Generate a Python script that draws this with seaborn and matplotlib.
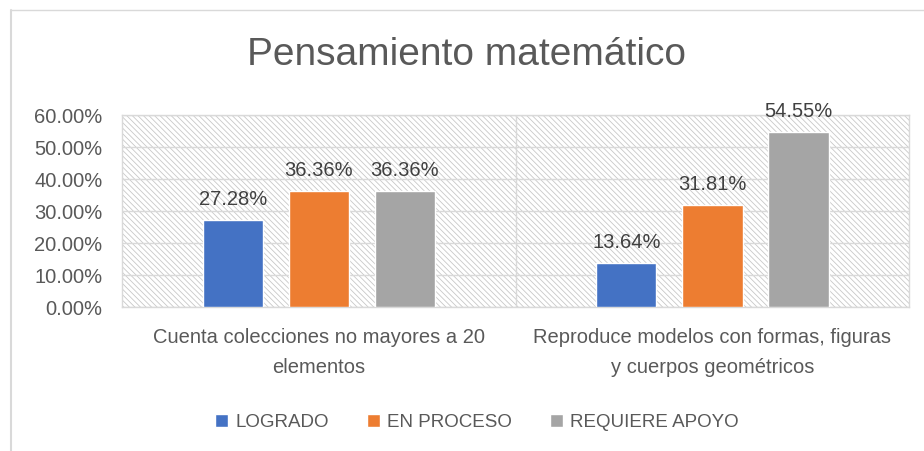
import pandas as pd
import seaborn as sns
import matplotlib.pyplot as plt
from matplotlib.patches import Rectangle
from matplotlib.lines import Line2D
from matplotlib.ticker import PercentFormatter

# Datos del gráfico
categorias = ['Cuenta colecciones no mayores a 20\nelementos',
              'Reproduce modelos con formas, figuras\ny cuerpos geométricos']
niveles = ['LOGRADO', 'EN PROCESO', 'REQUIERE APOYO']
logrado = [27.28, 13.64]
en_proceso = [36.36, 31.81]
requiere_apoyo = [36.36, 54.55]
colores = ['#4472C4', '#ED7D31', '#A5A5A5']

df = pd.DataFrame({
    'Categoria': categorias * 3,
    'Nivel': [n for n in niveles for _ in categorias],
    'Valor': logrado + en_proceso + requiere_apoyo,
})

sns.set_style('white')
plt.rcParams['font.family'] = ['Liberation Sans', 'DejaVu Sans']
plt.rcParams['hatch.linewidth'] = 0.6
plt.rcParams['hatch.color'] = '#C8C8C8'

fig = plt.figure(figsize=(9.24, 4.51), dpi=100)
ax = fig.add_axes([0.132, 0.319, 0.852, 0.426])

# Fondo rayado
ax.add_patch(Rectangle((0, 0), 1, 1, transform=ax.transAxes, facecolor='white',
                       edgecolor='#C8C8C8', hatch='\\\\\\\\\\\\', linewidth=0, zorder=0))

sns.barplot(data=df, x='Categoria', y='Valor', hue='Nivel', palette=colores,
            width=0.656, gap=0.3, ax=ax, zorder=3, saturation=1)

for cont in ax.containers:
    ax.bar_label(cont, labels=[f'{v:.2f}%' for v in cont.datavalues], padding=8,
                 fontsize=14.5, color='#404040')

ax.set_ylim(0, 60)
ax.set_xlim(-0.5, 1.5)
ax.set_yticks(range(0, 61, 10))
ax.yaxis.set_major_formatter(PercentFormatter(decimals=2))
ax.grid(axis='y', color='#D9D9D9', linewidth=1, zorder=1)
ax.axvline(0.5, color='#D9D9D9', linewidth=1, zorder=1)
for s in ax.spines.values():
    s.set_color('#D9D9D9')
    s.set_linewidth(1)
ax.tick_params(axis='both', length=0, labelsize=14.5, labelcolor='#595959')
ax.tick_params(axis='y', pad=14)
ax.tick_params(axis='x', pad=15)
for t in ax.get_xticklabels():
    t.set_linespacing(1.72)
ax.set_xlabel('')
ax.set_ylabel('')

fig.text(0.505, 1 - 55 / 451, 'Pensamiento matemático', ha='center', va='center',
         fontsize=28, color='#595959')

ax.legend(loc='center', bbox_to_anchor=(0.451, -0.6), ncol=3, frameon=False,
          fontsize=13.5, labelcolor='#595959', handlelength=0.7, handleheight=0.7,
          columnspacing=2.0, handletextpad=0.4)

# Borde del área del gráfico
fig.add_artist(Line2D([11 / 924, 11 / 924], [0, 1 - 10 / 451], color='#D9D9D9', linewidth=1.5))
fig.add_artist(Line2D([11 / 924, 1], [1 - 10 / 451, 1 - 10 / 451], color='#D9D9D9', linewidth=1))

plt.savefig('out.png', dpi=100)
